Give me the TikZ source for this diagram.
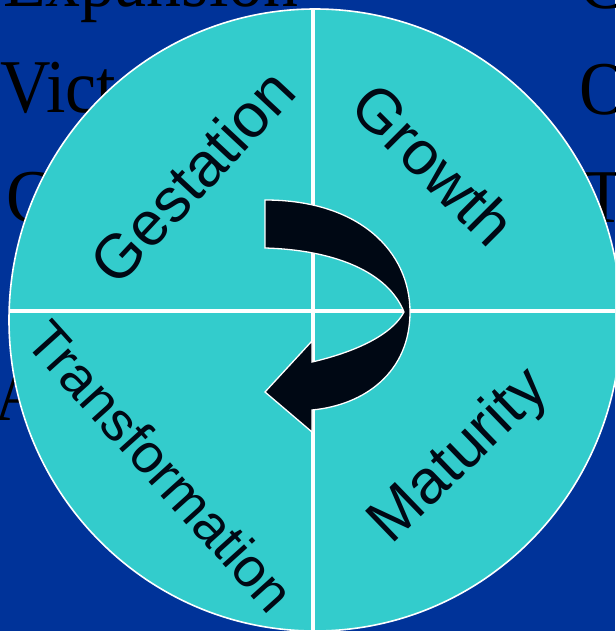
\documentclass[tikz,border=0pt]{standalone}
\usepackage{fontspec}
\setmainfont{Liberation Serif}
\newfontfamily\ghostfont[FakeStretch=0.92]{Liberation Serif}
\newfontfamily\phasefont{Liberation Sans}
\usepackage{tikz}
\definecolor{backblue}{HTML}{003399}
\definecolor{disc}{HTML}{33CCCC}
\definecolor{ink}{HTML}{000814}
\tikzset{
  rim/.style={draw=white, line width=1.6pt},
  divider/.style={draw=white, line width=4.5pt},
  turn/.style={fill=ink, draw=white, line width=1.3pt, line join=miter},
  phase/.style={text=ink, font=\phasefont\fontsize{62}{66}\selectfont, inner sep=0pt},
  ghost/.style={text=black, font=\ghostfont\fontsize{76}{80}\selectfont, inner sep=0pt, anchor=base west}
}

\begin{document}
\begin{tikzpicture}[x=1pt,y=-1pt]
  \fill[backblue] (0,0) rectangle (615,631);
  \useasboundingbox (0,0) rectangle (615,631);
  \clip (0,0) rectangle (615,631);

  % text of the slide behind the disc
  \node[ghost] (exp) at (3,7) {Expansion};
  \node[ghost] (vic) at (0,113) {Vict};
  \node[ghost] (cri) at (6,222) {C};
  \node[ghost] (aaa) at (-6,420) {A};
  \node[ghost] (rc) at (579,9) {C};
  \node[ghost] (ro) at (579,115) {O};
  \node[ghost] (rt) at (582,222) {T};

  \coordinate (M) at (315,320);
  \fill[disc] (M) ellipse [x radius=306, y radius=311];
  \begin{scope}
    \clip (M) ellipse [x radius=306, y radius=311];
    \draw[divider] (313,0) -- (313,631);
    \draw[divider] (0,311) -- (615,311);
  \end{scope}
  \draw[rim] (M) ellipse [x radius=306, y radius=311];

  \draw[turn] (265,200) .. controls (360,200) and (410,252) .. (410,312)
    .. controls (410,372) and (365,405) .. (312,410) -- (312,432) -- (265,392)
    -- (312,341) -- (312,362) .. controls (355,352) and (392,335) .. (404,312)
    .. controls (388,272) and (335,250) .. (265,248) -- cycle;

  \node[phase, rotate=47] (ges) at (192,176) {Gestation};
  \node[phase, rotate=-45] (gro) at (434,164) {Growth};
  \node[phase, rotate=44] (mat) at (460,457) {Maturity};
  \node[phase, rotate=-48, font=\phasefont\fontsize{55}{60}\selectfont] (tra) at (161,466) {Transformation};
\end{tikzpicture}
\end{document}
